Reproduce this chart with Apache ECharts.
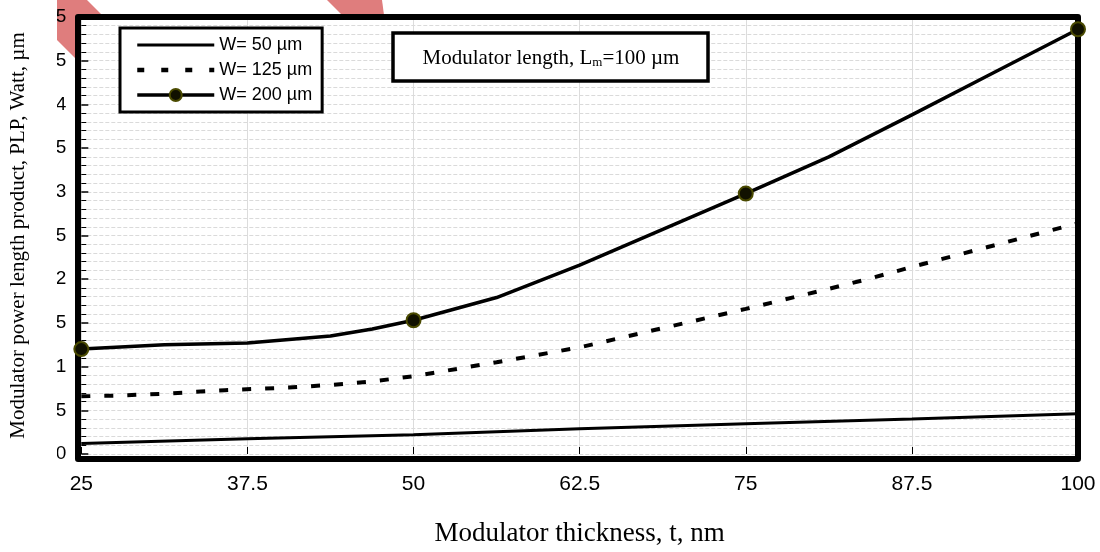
<!DOCTYPE html>
<html>
<head>
<meta charset="utf-8">
<script src="https://cdn.jsdelivr.net/npm/echarts@6/dist/echarts.min.js"></script>
<style>html,body{margin:0;padding:0;background:#fff;}#c{width:1100px;height:552px;}</style>
</head>
<body>
<div id="c"></div>
<script>
// ---- data ----
const xTicks = [25, 37.5, 50, 62.5, 75, 87.5, 100];
const yTicks = [0, 0.5, 1, 1.5, 2, 2.5, 3, 3.5, 4, 4.5, 5];

const seriesNames = ['W= 50 µm', 'W= 125 µm', 'W= 200 µm'];

const tW50 = [25, 37.5, 50, 62.5, 75, 87.5, 100];
const vW50 = [0.12, 0.175, 0.22, 0.29, 0.345, 0.40, 0.46];

const tW125 = [25, 28.1, 31.25, 35.8, 40.6, 43.75, 46.9, 50, 56.25, 62.5, 68.75, 75, 81.25, 84.4, 87.5, 93.75, 100];
const vW125 = [0.66, 0.67, 0.69, 0.73, 0.76, 0.79, 0.83, 0.89, 1.05, 1.22, 1.44, 1.66, 1.89, 2.01, 2.14, 2.39, 2.64];

const tW200 = [25, 31.25, 37.5, 43.75, 46.9, 50, 56.25, 62.5, 68.75, 75, 81.25, 87.5, 93.75, 100];
const vW200 = [1.20, 1.25, 1.27, 1.35, 1.43, 1.53, 1.79, 2.16, 2.57, 2.98, 3.40, 3.88, 4.37, 4.86];
const markerT = [25, 50, 75, 100];

const xTitle = 'Modulator thickness, t, nm';
const yTitle = 'Modulator power length product, PLP, Watt, µm';
const noteMain = 'Modulator length, L';
const noteSub = 'm';
const noteTail = '=100 µm';

// ---- build ----
const pair = (ts, vs) => ts.map((t, i) => [t, vs[i]]);
const d200 = tW200.map((t, i) => markerT.indexOf(t) >= 0 ? { value: [t, vW200[i]] } : { value: [t, vW200[i]], symbol: 'none' });

const chart = echarts.init(document.getElementById('c'), null, { renderer: 'canvas' });
const sans = 'Liberation Sans, Arial, sans-serif';
const serif = 'Liberation Serif, Times New Roman, serif';

const G = { left: 78, right: 22, top: 17, bottom: 93 };
const W = 1100, H = 552;
const hidden = { color: 'rgba(0,0,0,0)', borderColor: 'rgba(0,0,0,0)', borderWidth: 0 };

chart.setOption({
  animation: false,
  backgroundColor: '#fff',
  grid: {
    left: G.left, right: G.right, top: G.top, bottom: G.bottom,
    show: true, backgroundColor: '#fff', borderWidth: 0
  },
  xAxis: {
    type: 'value', min: xTicks[0], max: xTicks[xTicks.length - 1], interval: 12.5,
    name: xTitle, nameLocation: 'middle', nameGap: 66,
    nameTextStyle: { fontFamily: serif, fontSize: 27, color: '#000' },
    axisLine: { show: false },
    axisTick: { show: true, inside: true, length: 7, lineStyle: { color: '#000', width: 1 } },
    axisLabel: { margin: 20, fontFamily: sans, fontSize: 21, color: '#000' },
    splitLine: { show: true, lineStyle: { color: '#dcdcdc', width: 1 } }
  },
  yAxis: {
    type: 'value', min: yTicks[0], max: yTicks[yTicks.length - 1], interval: 0.5,
    name: yTitle, nameLocation: 'middle', nameGap: 47,
    nameTextStyle: { fontFamily: serif, fontSize: 21, color: '#000' },
    axisLine: { show: false },
    axisTick: { show: true, inside: true, length: 7, lineStyle: { color: '#000', width: 1.5 } },
    minorTick: { show: true, splitNumber: 5, length: 5, lineStyle: { color: '#000', width: 1 } },
    axisLabel: { margin: 15, fontFamily: sans, fontSize: 19, color: '#000' },
    splitLine: { show: true, lineStyle: { color: '#dadada', width: 1, type: [4, 2] } },
    minorSplitLine: { show: true, lineStyle: { color: '#dadada', width: 1, type: [4, 2] } }
  },
  legend: {
    orient: 'vertical', left: 120, top: 28,
    data: [
      { name: seriesNames[0], itemStyle: hidden, lineStyle: { width: 3 } },
      { name: seriesNames[1], itemStyle: hidden, lineStyle: { width: 4.5, type: [7, 17] } },
      { name: seriesNames[2], lineStyle: { width: 3.5 } }
    ],
    backgroundColor: '#fff', borderColor: '#000', borderWidth: 3,
    padding: [8, 10, 8, 15],
    itemWidth: 77, itemHeight: 15, itemGap: 7,
    textStyle: { fontFamily: sans, fontSize: 18, color: '#000' }
  },
  series: [
    {
      name: seriesNames[0], type: 'line', data: pair(tW50, vW50),
      symbol: 'none', lineStyle: { color: '#000', width: 3 }, itemStyle: { color: '#000' }, z: 2
    },
    {
      name: seriesNames[1], type: 'line', data: pair(tW125, vW125),
      symbol: 'none', lineStyle: { color: '#000', width: 4, type: [9, 14], cap: 'butt' }, itemStyle: { color: '#000' }, z: 2
    },
    {
      name: seriesNames[2], type: 'line', data: d200,
      symbol: 'circle', symbolSize: 14, showAllSymbol: true,
      lineStyle: { color: '#000', width: 3.5 },
      itemStyle: { color: '#111100', borderColor: '#4a4a00', borderWidth: 2 }, z: 6
    }
  ],
  graphic: [
    // pink background shapes (behind plot)
    { type: 'polygon', z: -10, shape: { points: [[40, 0], [87, 0], [160, 73], [90, 73], [40, 23]] }, style: { fill: '#df7d7d' } },
    { type: 'polygon', z: -10, shape: { points: [[327, 0], [382, 0], [386, 30], [357, 30]] }, style: { fill: '#df7d7d' } },
    // plot frame
    { type: 'rect', z: 4, silent: true, shape: { x: G.left, y: G.top, width: W - G.left - G.right, height: H - G.top - G.bottom }, style: { fill: 'none', stroke: '#000', lineWidth: 6, lineJoin: 'round' } },
    // left crop of the tick labels
    { type: 'rect', z: 100, shape: { x: 31, y: 0, width: 26, height: 478 }, style: { fill: '#fff' } },
    // annotation box
    { type: 'rect', z: 50, shape: { x: 393, y: 33, width: 315, height: 48 }, style: { fill: '#fff', stroke: '#000', lineWidth: 3.5 } },
    {
      type: 'text', z: 51, x: 551, y: 58,
      style: {
        text: '{a|' + noteMain + '}{s|' + noteSub + '}{a|' + noteTail + '}',
        align: 'center', verticalAlign: 'middle',
        rich: {
          a: { fontFamily: serif, fontSize: 21, fill: '#000', verticalAlign: 'bottom', lineHeight: 22 },
          s: { fontFamily: serif, fontSize: 13, fill: '#000', verticalAlign: 'bottom', lineHeight: 12 }
        }
      }
    }
  ]
});
</script>
</body>
</html>
